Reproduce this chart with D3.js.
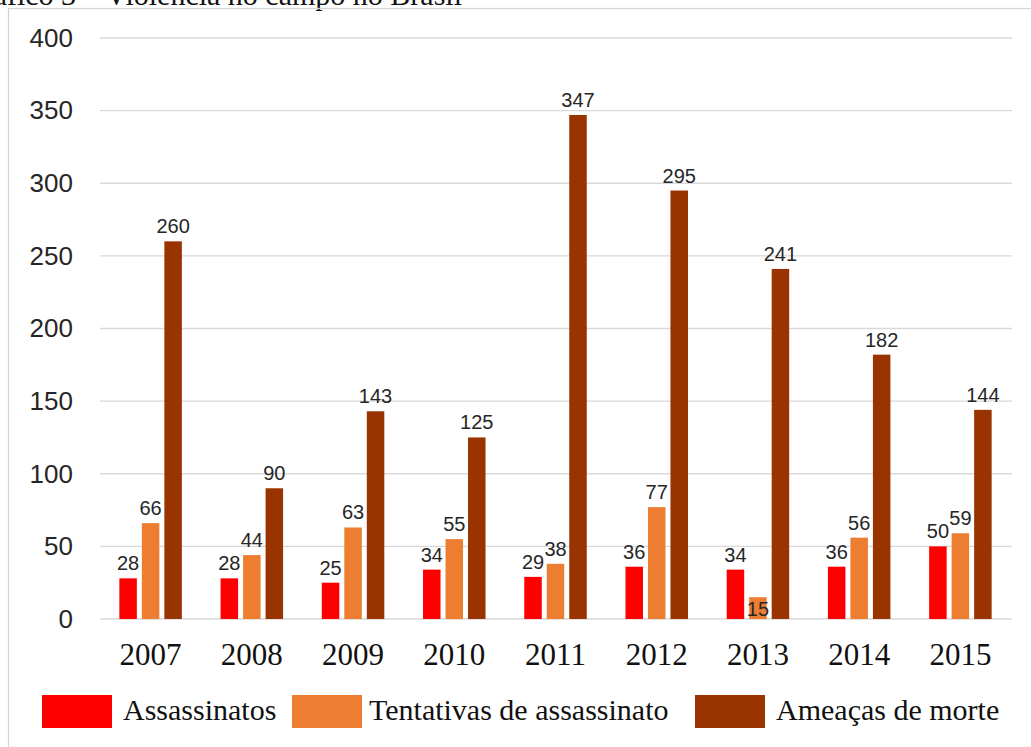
<!DOCTYPE html>
<html>
<head>
<meta charset="utf-8">
<script src="https://cdn.jsdelivr.net/npm/d3@7"></script>
<style>
  body { margin: 0; background: #fff; }
  svg { display: block; }
</style>
</head>
<body>
<div id="chart"></div>
<script>
// data
const years = ['2007', '2008', '2009', '2010', '2011', '2012', '2013', '2014', '2015'];
const series = ['Assassinatos', 'Tentativas de assassinato', 'Ameaças de morte'];
const assassinatos = [28, 28, 25, 34, 29, 36, 34, 36, 50];
const tentativas = [66, 44, 63, 55, 38, 77, 15, 56, 59];
const ameacas = [260, 90, 143, 125, 347, 295, 241, 182, 144];
const yTicks = [0, 50, 100, 150, 200, 250, 300, 350, 400];
const colors = ['#ff0000', '#ed7d31', '#993300'];

const width = 1031, height = 747;

const svg = d3.select('#chart').append('svg')
  .attr('width', width)
  .attr('height', height);

// title, cut by the top edge like in the scan
svg.append('text')
  .attr('x', 462)
  .attr('y', 5)
  .attr('text-anchor', 'end')
  .style('font-family', '"Liberation Serif", "Times New Roman", serif')
  .style('font-size', '30px')
  .attr('fill', '#111')
  .text('Gráfico 3 – Violência no campo no Brasil');

// chart frame
svg.append('rect')
  .attr('x', 8.5)
  .attr('y', 8.5)
  .attr('width', width)
  .attr('height', height)
  .attr('fill', 'none')
  .attr('stroke', '#d4d4d4')
  .attr('stroke-width', 1.2);

const x0 = d3.scaleBand()
  .domain(years)
  .range([100, 1011])
  .padding(0);

const x1 = d3.scaleBand()
  .domain(series)
  .range([-31.25, 31.25])
  .paddingInner(0.222);

const y = d3.scaleLinear()
  .domain([0, 400])
  .range([619, 38]);

// gridlines
svg.append('g')
  .selectAll('line')
  .data(yTicks)
  .join('line')
  .attr('x1', 100)
  .attr('x2', 1012)
  .attr('y1', d => y(d))
  .attr('y2', d => y(d))
  .attr('stroke', '#d9d9d9')
  .attr('stroke-width', 1.3);

// y axis labels
const yAxis = svg.append('g')
  .attr('transform', 'translate(80,0)')
  .call(d3.axisLeft(y).tickValues(yTicks).tickSize(0).tickPadding(7));
yAxis.select('.domain').remove();
yAxis.selectAll('text')
  .style('font-family', '"Liberation Sans", Arial, sans-serif')
  .style('font-size', '26px')
  .attr('fill', '#262626');

// x axis labels
const xAxis = svg.append('g')
  .attr('transform', 'translate(0,619)')
  .call(d3.axisBottom(x0).tickSize(0).tickPadding(24));
xAxis.select('.domain').remove();
xAxis.selectAll('text')
  .style('font-family', '"Liberation Serif", "Times New Roman", serif')
  .style('font-size', '31px')
  .attr('fill', '#111');

const table = years.map((yr, i) => ({
  year: yr,
  values: [assassinatos[i], tentativas[i], ameacas[i]]
}));

const groups = svg.append('g')
  .selectAll('g')
  .data(table)
  .join('g')
  .attr('transform', d => `translate(${x0(d.year) + x0.bandwidth() / 2},0)`);

groups.selectAll('rect')
  .data(d => d.values.map((v, k) => ({ key: series[k], value: v, k: k, year: d.year })))
  .join('rect')
  .attr('x', d => x1(d.key))
  .attr('y', d => y(d.value))
  .attr('width', x1.bandwidth())
  .attr('height', d => y(0) - y(d.value))
  .attr('fill', d => colors[d.k]);

// the 2013 label for "Tentativas" sits lower in the source
const labelShift = { '2013|1': 27 };

groups.selectAll('text')
  .data(d => d.values.map((v, k) => ({ key: series[k], value: v, k: k, year: d.year })))
  .join('text')
  .attr('x', d => x1(d.key) + x1.bandwidth() / 2)
  .attr('y', d => y(d.value) - 8 + (labelShift[d.year + '|' + d.k] || 0))
  .attr('text-anchor', 'middle')
  .style('font-family', '"Liberation Sans", Arial, sans-serif')
  .style('font-size', '20px')
  .attr('fill', '#262626')
  .text(d => d.value);

// legend
const legendX = [42, 292, 695];
const legend = svg.append('g')
  .selectAll('g')
  .data(series)
  .join('g')
  .attr('transform', (d, i) => `translate(${legendX[i]},695)`);

legend.append('rect')
  .attr('width', 70)
  .attr('height', 33)
  .attr('fill', (d, i) => colors[i]);

legend.append('text')
  .attr('x', (d, i) => i === 0 ? 81 : i === 1 ? 77 : 81)
  .attr('y', 25)
  .style('font-family', '"Liberation Serif", "Times New Roman", serif')
  .style('font-size', '30px')
  .attr('fill', '#111')
  .text(d => d);
</script>
</body>
</html>
